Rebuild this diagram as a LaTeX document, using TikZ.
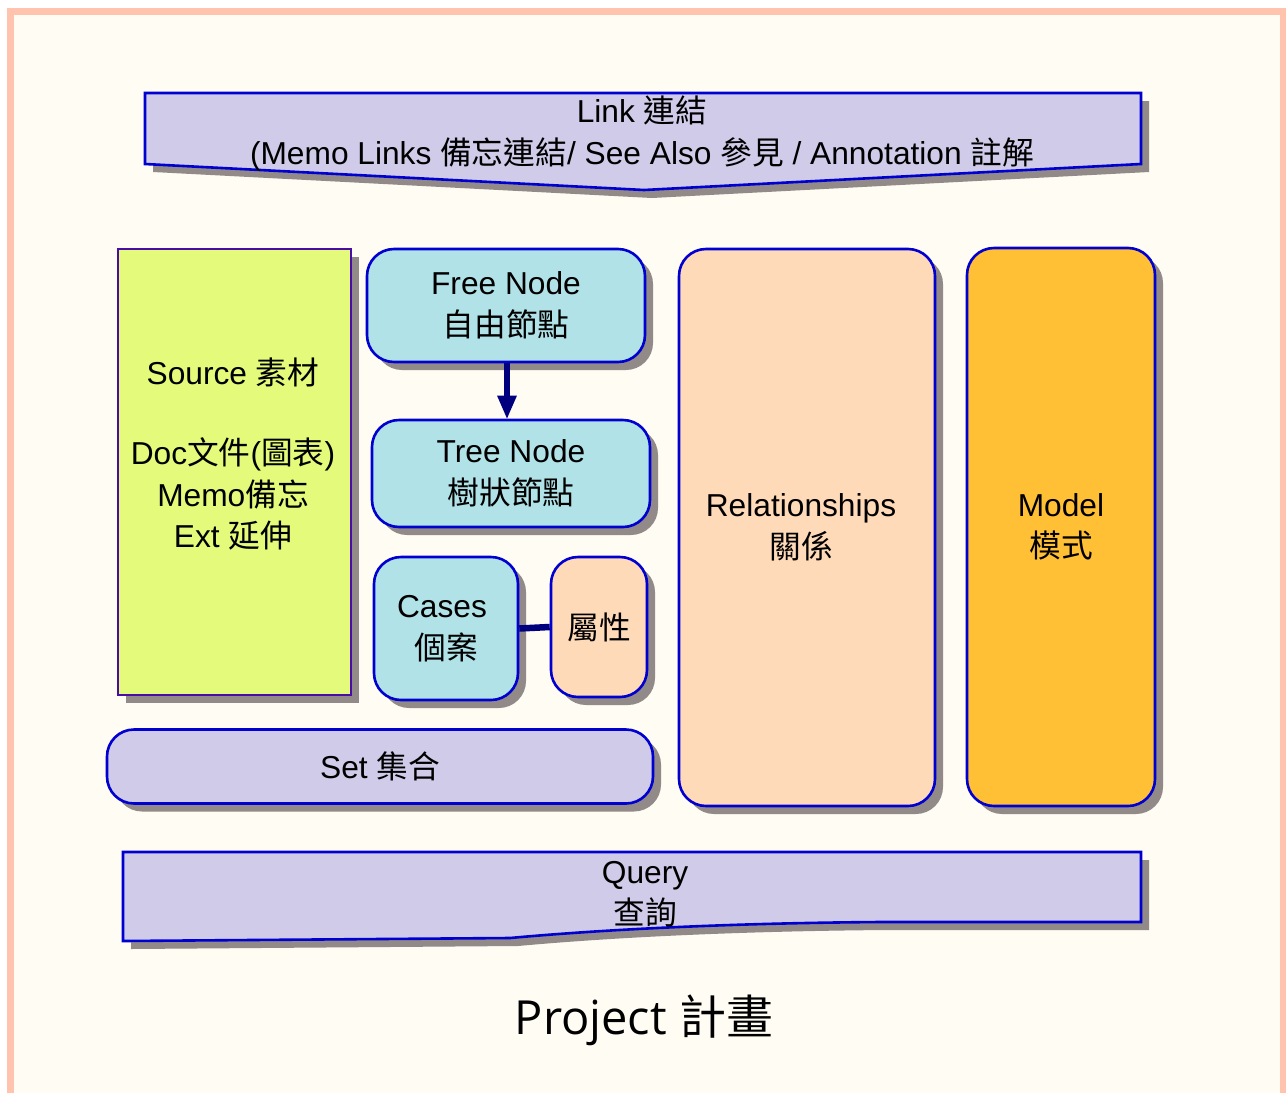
\documentclass[tikz,border=0pt]{standalone}
\usepackage{fontspec}
\setmainfont{Liberation Sans}
\newfontfamily\cjkf{Noto Sans CJK TC}
\newfontfamily\titlef{Open Sans}
\newcommand\zhs[1]{{\cjkf #1}}
\usetikzlibrary{shadows,arrows.meta}
\definecolor{cream}{HTML}{FFFCF3}
\definecolor{framec}{HTML}{FFC3AE}
\definecolor{bblue}{HTML}{0000D0}
\definecolor{srcborder}{HTML}{4A0CA8}
\definecolor{shgray}{HTML}{918A88}
\definecolor{lav}{HTML}{CFCBE8}
\definecolor{cyanf}{HTML}{B0E2E8}
\definecolor{peachf}{HTML}{FFDAB8}
\definecolor{modelf}{HTML}{FFC035}
\definecolor{srcf}{HTML}{E3FA7A}
\definecolor{navyc}{HTML}{00007F}
\begin{document}
\begin{tikzpicture}[x=1pt,y=-1pt,
  shd/.style={drop shadow={shadow xshift=8pt,shadow yshift=-8pt,fill=shgray,opacity=1}},
  txt/.style={align=center,inner sep=0pt,font=\fontsize{31.7}{41.5}\selectfont},
  rbox/.style={draw=bblue,line width=2.6pt,rounded corners=27pt,shd,txt},
  banner/.style={draw=bblue,line width=2.6pt,fill=lav,line join=miter},
  conn/.style={draw=navyc,line width=6.5pt}]
\useasboundingbox (0,0) rectangle (1286,1093);
\clip (0,0) rectangle (1286,1093);
\fill[white] (0,0) rectangle (1286,1093);
\fill[cream] (7,8) rectangle (1287,1110);
\draw[framec,line width=7pt] (10.5,11.5) rectangle (1283.5,1120);

% Link banner
\fill[shgray,shift={(8,8)}] (145,93) -- (1141,93) -- (1141,164) -- (644,190) -- (145,164) -- cycle;
\draw[banner] (145,93) -- (1141,93) -- (1141,164) -- (644,190) -- (145,164) -- cycle;
\node[txt] (link) at (642,133.5) {Link \zhs{連結}\\(Memo Links \zhs{備忘連結}/ See Also \zhs{參見} / Annotation \zhs{註解}};

% Source
\node[draw=srcborder,line width=2.6pt,fill=srcf,shd,minimum width=233pt,minimum height=446pt,inner sep=0pt] (source) at (234.5,472) {};
\node[txt] (srctext) at (233,454) {Source \zhs{素材}\\[39pt]Doc\zhs{文件}(\zhs{圖表})\\Memo\zhs{備忘}\\Ext \zhs{延伸}};

% Free / Tree
\node[rbox,fill=cyanf,minimum width=278pt,minimum height=113pt] (free) at (506,305.5) {Free Node\\\zhs{自由節點}};
\node[rbox,fill=cyanf,minimum width=278pt,minimum height=107pt] (tree) at (511,473.5) {Tree Node\\\zhs{樹狀節點}};
\draw[conn,-{Triangle[width=18pt,length=24pt]}] (free.south -| 507,0) -- (507,419.5);

% Cases / attributes
\node[rbox,fill=cyanf,minimum width=144pt,minimum height=143pt] (cases) at (446,628.5) {\hspace*{-8pt}Cases\\\zhs{個案}};
\node[rbox,fill=peachf,minimum width=96pt,minimum height=140pt] (attr) at (599,627) {\zhs{屬性}};
\draw[conn] (cases.east) -- (attr.west);

% Set
\node[rbox,fill=lav,minimum width=546pt,minimum height=74pt] (set) at (380,766.5) {Set \zhs{集合}};

% Relationships / Model
\node[rbox,fill=peachf,minimum width=256pt,minimum height=557pt] (rel) at (807,527.5) {Relationships\hspace*{12pt}\\\zhs{關係}\hspace*{12pt}};
\node[rbox,fill=modelf,minimum width=188pt,minimum height=558pt] (model) at (1061,527) {Model\\\zhs{模式}};

% Query banner
\fill[shgray,shift={(8,8)}] (123,852) -- (1141,852) -- (1141,922) -- (880,922) .. controls (750,923) and (620,928) .. (510,938) -- (123,941) -- cycle;
\draw[banner] (123,852) -- (1141,852) -- (1141,922) -- (880,922) .. controls (750,923) and (620,928) .. (510,938) -- (123,941) -- cycle;
\node[txt] (query) at (645,894) {Query\\\zhs{查詢}};

% Title
\node[inner sep=0pt,font=\titlef\fontsize{47}{52}\selectfont] (title) at (644,1020) {Project \zhs{計畫}};
\end{tikzpicture}
\end{document}
